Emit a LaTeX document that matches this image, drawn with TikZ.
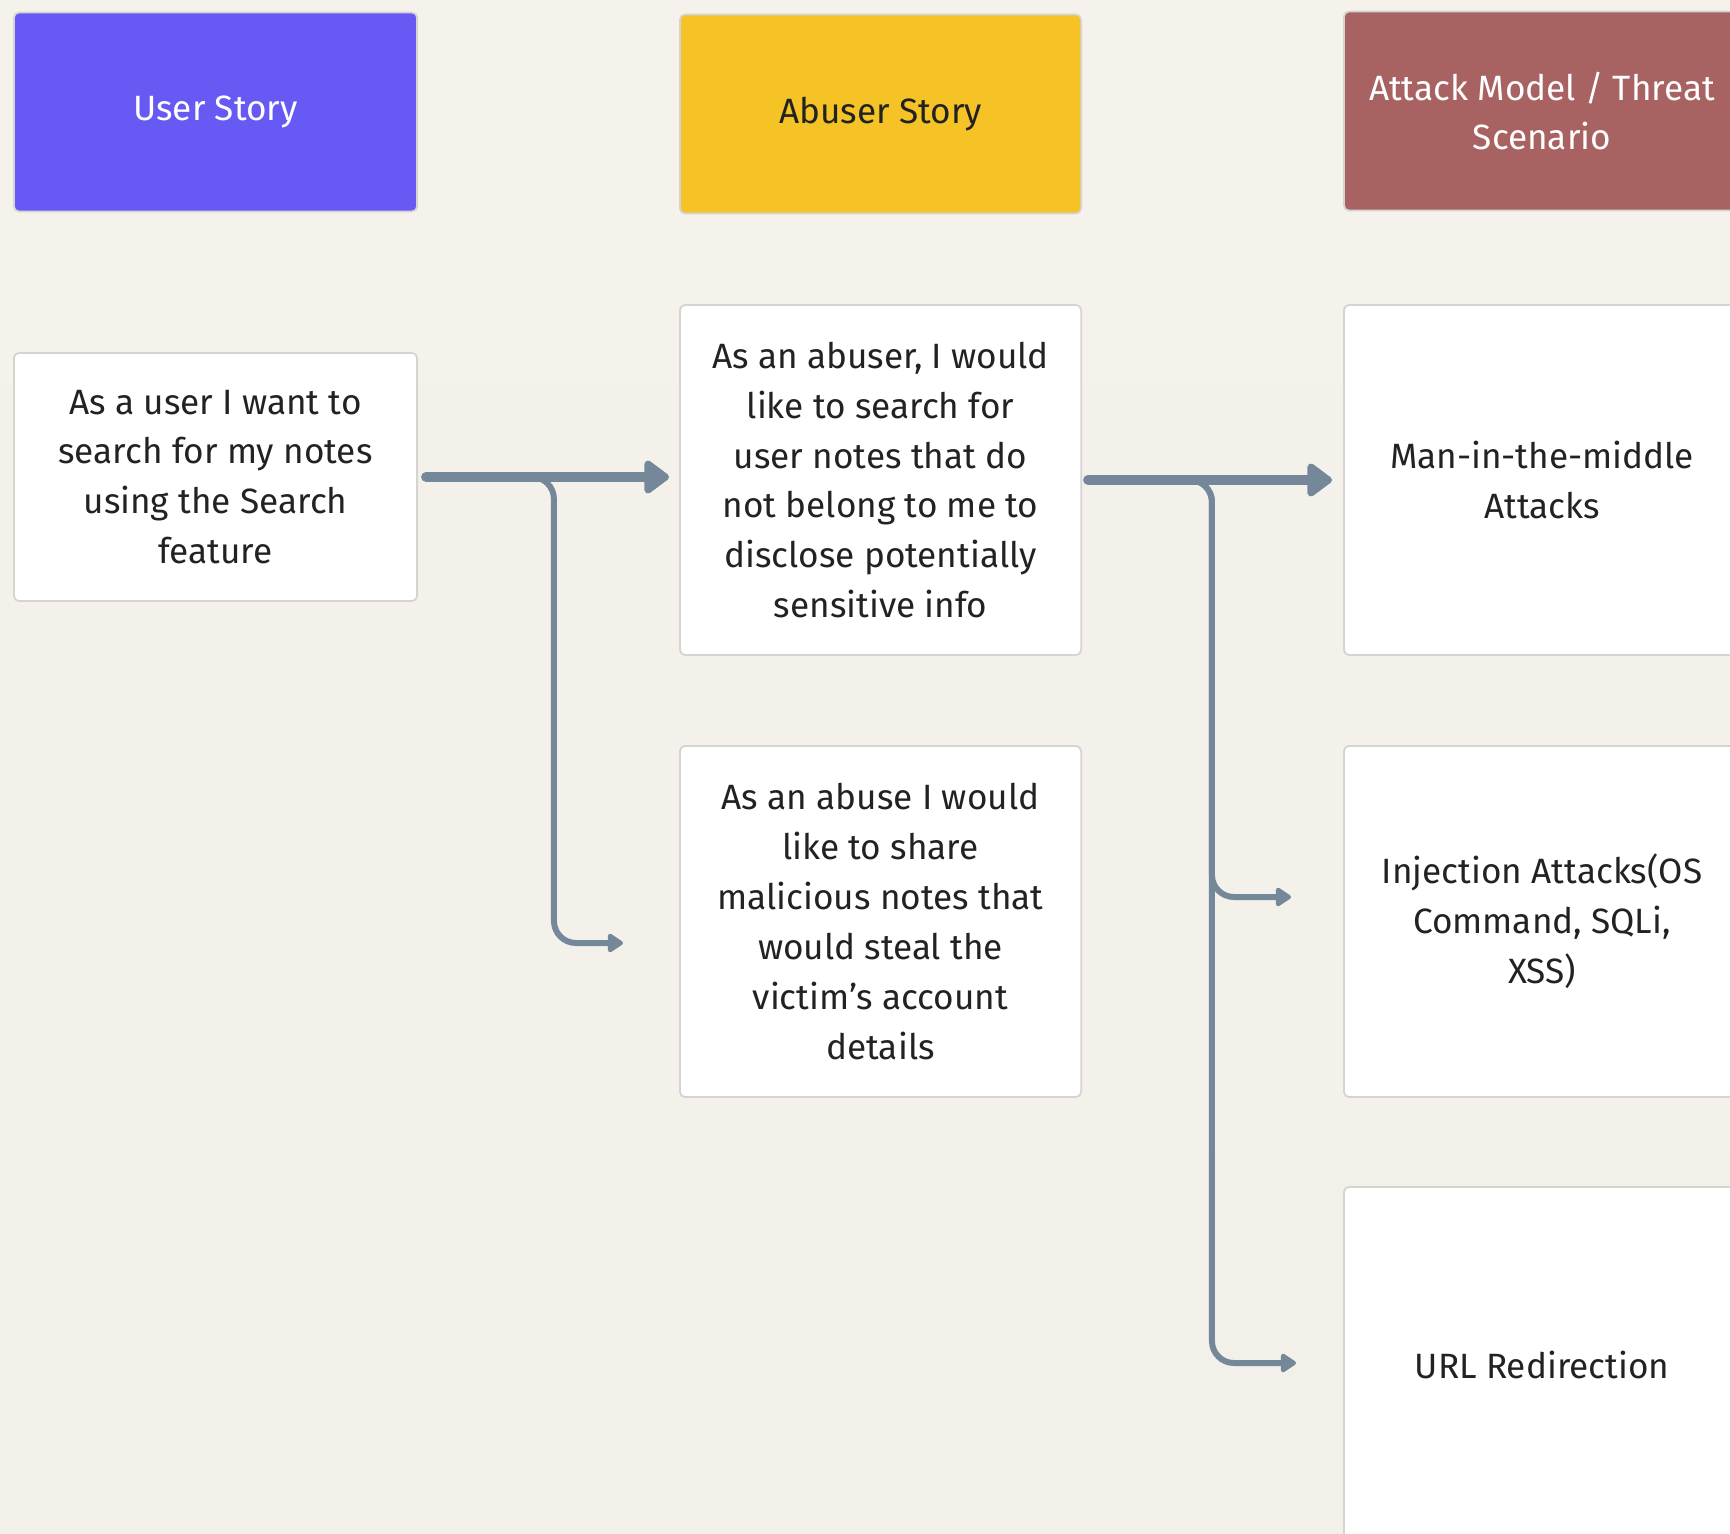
\documentclass[tikz,border=0pt]{standalone}
\usepackage{fontspec}
\setmainfont{Fira Sans}
\usetikzlibrary{arrows.meta}
\definecolor{userblue}{HTML}{6659F4}
\definecolor{abuseryellow}{HTML}{F5C326}
\definecolor{attackred}{HTML}{A86262}
\definecolor{boxline}{HTML}{D6D4D0}
\definecolor{flowgrey}{HTML}{74889A}
\definecolor{bgtop}{HTML}{F5F2EC}
\definecolor{bgmid}{HTML}{E4E1DC}
\definecolor{bgbot}{HTML}{F3F0EA}
\definecolor{textdark}{HTML}{222222}

\begin{document}
\begin{tikzpicture}[x=0.01cm,y=-0.01cm,
    card/.style={draw=boxline, line width=0.5pt, rounded corners=1.5pt, fill=white,
      align=center, inner sep=0pt, text=textdark,
      font=\fontsize{10}{14.2}\selectfont},
    head/.style={card, minimum height=1.99cm},
    mainflow/.style={flowgrey, line width=2.8pt, line cap=round,
      -{Triangle[length=0.27cm,width=0.38cm,round]}},
    subflow/.style={flowgrey, line width=1.7pt, rounded corners=0.22cm,
      -{Triangle[length=0.17cm,width=0.21cm,round]}}]
  \useasboundingbox (0,0) rectangle (1730,1533);
  \clip (0,0) rectangle (1730,1533);
  \shade[top color=bgtop, middle color=bgmid, bottom color=bgbot] (0,0) rectangle (1730,1533);

  \node[head, fill=userblue, text=white, minimum width=4.03cm] (userhead) at (215.5,112) {User Story};
  \node[head, fill=abuseryellow, minimum width=4.01cm] (abusehead) at (880.5,114) {Abuser Story};
  \node[head, fill=attackred, text=white, minimum width=3.96cm] (attackhead) at (1542,111) {Attack Model / Threat\\Scenario};

  \node[card, minimum width=4.03cm, minimum height=2.48cm] (user) at (215.5,477)
    {As a user I want to\\search for my notes\\using the Search\\feature};
  \node[card, minimum width=4.01cm, minimum height=3.50cm] (abuse1) at (880.5,480)
    {As an abuser, I would\\like to search for\\user notes that do\\not belong to me to\\disclose potentially\\sensitive info};
  \node[card, minimum width=4.01cm, minimum height=3.51cm] (abuse2) at (880.5,921.5)
    {As an abuse I would\\like to share\\malicious notes that\\would steal the\\victim's account\\details};
  \node[card, minimum width=3.96cm, minimum height=3.50cm] (attack1) at (1542,480)
    {Man-in-the-middle\\Attacks};
  \node[card, minimum width=3.96cm, minimum height=3.51cm] (attack2) at (1542,921.5)
    {Injection Attacks(OS\\Command, SQLi,\\XSS)};
  \node[card, minimum width=3.96cm, minimum height=3.56cm] (attack3) at (1542,1365)
    {URL Redirection};

  \coordinate (abuse2in) at (623,943);
  \coordinate (attack2in) at (1291,897);
  \coordinate (attack3in) at (1296,1363);

  \draw[subflow, shorten <=0.56cm] (user.east) -| ([xshift=-0.69cm]abuse2in) -- (abuse2in);
  \draw[mainflow, shorten <=0.08cm, shorten >=0.10cm] (user.east) -- (user.east -| abuse1.west);
  \draw[subflow, shorten <=0.06cm] (abuse1.east) -| ([xshift=-0.79cm]attack2in) -- (attack2in);
  \draw[subflow, shorten <=0.06cm] (abuse1.east) -| ([xshift=-0.84cm]attack3in) -- (attack3in);
  \draw[mainflow, shorten <=0.06cm, shorten >=0.11cm] (abuse1.east) -- (attack1.west);
\end{tikzpicture}
\end{document}
